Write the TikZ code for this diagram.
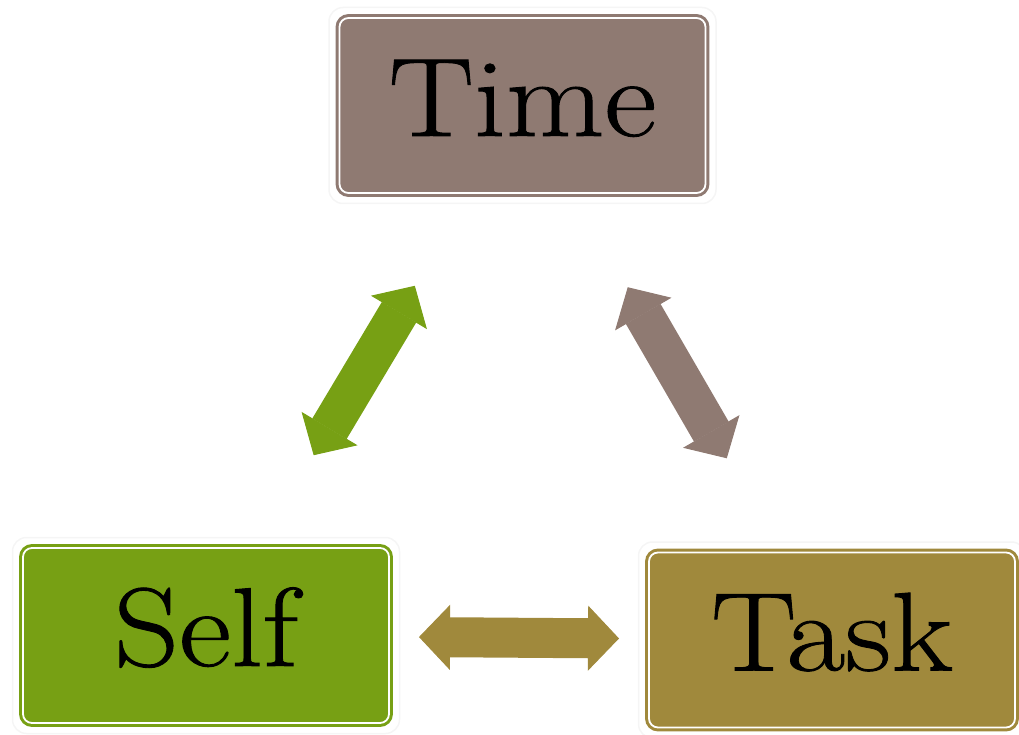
\documentclass[tikz,border=0pt]{standalone}
\usepackage{fontspec}
\setmainfont{Latin Modern Roman}[FakeStretch=1.14,FakeBold=0.8]
\usetikzlibrary{arrows.meta}
\definecolor{timecol}{HTML}{8F7A72}
\definecolor{selfcol}{HTML}{77A014}
\definecolor{taskcol}{HTML}{A0893C}
\begin{document}
\begin{tikzpicture}[x=1pt,y=-1pt,
  box/.style={rectangle, rounded corners=9pt, fill=#1, draw=#1, double=white,
    double distance=1.8pt, line width=3pt, minimum width=366pt, minimum height=175pt,
    inner sep=0pt, font=\fontsize{112}{120}\selectfont, text height=78pt, text depth=17pt},
  halo/.style={draw=black!4, line width=1.5pt, rounded corners=14pt},
  tipshape/.style={},
  link/.style={draw=#1, line width=40pt,
    {Triangle[length=31pt,width=65pt,line width=1pt]}-{Triangle[length=31pt,width=65pt,line width=1pt]}}
]
\useasboundingbox (0,0) rectangle (1019,735);
\node[box=timecol] (time) at (522.5,105.5) {Time};
\node[box=selfcol] (self) at (206,635.5) {Self};
\node[box=taskcol] (task) at (832,640) {Task};
\foreach \n in {time,self,task}{
  \draw[halo] ([shift={(-9pt,9pt)}]\n.north west) rectangle ([shift={(9pt,-9pt)}]\n.south east);
}
\draw[link=selfcol, shorten <=210pt, shorten >=210pt] (self.center) -- (time.center);
\draw[link=timecol, shorten <=210pt, shorten >=210pt] (time.center) -- (task.center);
\draw[link=taskcol, shorten <=213pt, shorten >=213pt] (self.center) -- (task.center);
\end{tikzpicture}
\end{document}
